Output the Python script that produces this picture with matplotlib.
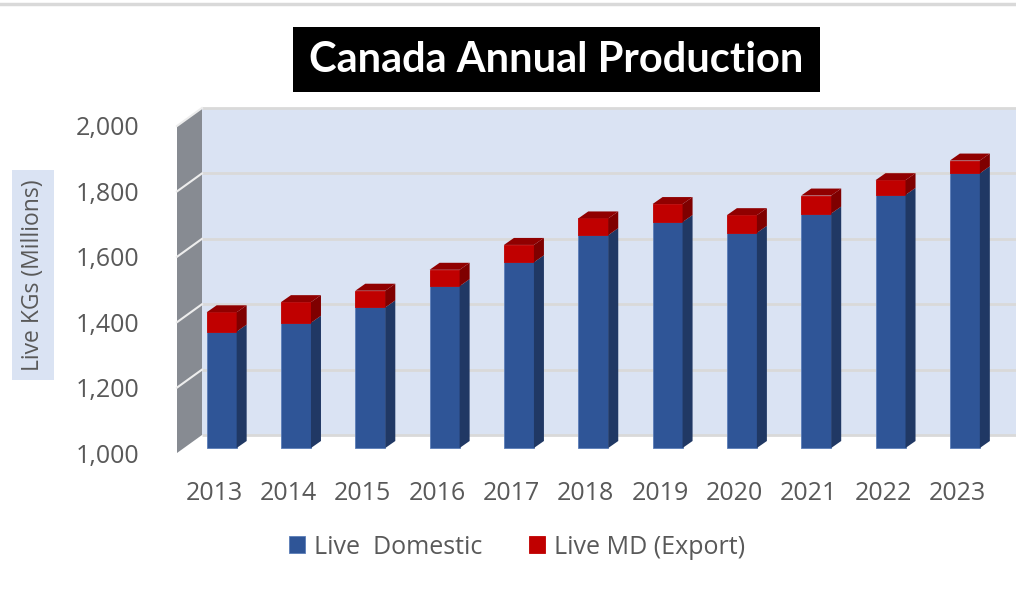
import numpy as np
import matplotlib.pyplot as plt
from matplotlib.patches import Polygon, Rectangle
from matplotlib.lines import Line2D
from matplotlib.transforms import ScaledTranslation

plt.rcParams['font.family'] = ['Open Sans', 'DejaVu Sans']

# data (millions of live kg)
years = ['2013', '2014', '2015', '2016', '2017', '2018', '2019', '2020', '2021', '2022', '2023']
domestic = [1356, 1383, 1430, 1495, 1568, 1651, 1691, 1658, 1717, 1774, 1840]
export = [59, 63, 51, 50, 53, 51, 55, 54, 55, 45, 39]
y_ticks = [1000, 1200, 1400, 1600, 1800, 2000]

W, H, DPI = 1016, 589, 100
fig = plt.figure(figsize=(W / DPI, H / DPI), dpi=DPI)

# front plane of the fake 3D box, in pixels
left, right, bottom, top = 177, 994.5, 136, 463
ax = fig.add_axes([left / W, bottom / H, (right - left) / W, (top - bottom) / H])
ax.set_xlim(-0.5, len(years) - 0.5)
ax.set_ylim(y_ticks[0], y_ticks[-1])
ax.patch.set_visible(False)
for s in ax.spines.values():
    s.set_visible(False)

px_x = len(years) / (right - left)
px_y = (y_ticks[-1] - y_ticks[0]) / (top - bottom)


def shift(dx, dy):
    # data transform moved by some pixels (depth of the 3D box)
    return ax.transData + ScaledTranslation(dx / DPI, dy / DPI, fig.dpi_scale_trans)


wall_dx, wall_dy = 25, 18
x0, x1 = -0.5, len(years) - 0.5
ymin, ymax = y_ticks[0], y_ticks[-1]

# back wall + gridlines
wall = shift(wall_dx, wall_dy)
ax.add_patch(Rectangle((x0, ymin), x1 - x0, ymax - ymin, transform=wall,
                       fc='#DAE3F3', ec='none', clip_on=False, zorder=0))
for v in y_ticks:
    ax.plot([x0, x1], [v, v], transform=wall, color='#D9D9D9', lw=2,
            clip_on=False, zorder=1, solid_capstyle='butt')

# left side wall
ddx, ddy = wall_dx * px_x, wall_dy * px_y
ax.add_patch(Polygon([(x0, ymin), (x0, ymax), (x0 + ddx, ymax + ddy), (x0 + ddx, ymin + ddy)],
                     closed=True, fc='#878B92', ec='none', clip_on=False, zorder=1))
for v in y_ticks[1:]:
    ax.plot([x0, x0 + ddx], [v, v + ddy], color='#EDEDED', lw=1.5, clip_on=False, zorder=2)

# bars
front = shift(7.5, 5)
w = 30 * px_x
bx, by = 10 * px_x, 7 * px_y
x = np.arange(len(years))
dom = np.array(domestic)
exp_ = np.array(export)

b1 = ax.bar(x, dom - ymin, bottom=ymin, width=w, color='#2F5597', edgecolor='#5B7DB8',
            linewidth=0.6, transform=front, clip_on=False, zorder=3)
b2 = ax.bar(x, exp_, bottom=dom, width=w, color='#C00000', edgecolor='#C00000',
            linewidth=0.6, transform=front, clip_on=False, zorder=3)

for i in range(len(years)):
    xl, xr = x[i] - w / 2, x[i] + w / 2
    segs = [(ymin, dom[i], '#203864'), (dom[i], dom[i] + exp_[i], '#7F0000')]
    for b, t, c in segs:
        ax.add_patch(Polygon([(xr, b), (xr, t), (xr + bx, t + by), (xr + bx, b + by)],
                             closed=True, fc=c, ec='none', transform=front,
                             clip_on=False, zorder=3))
    t = dom[i] + exp_[i]
    ax.add_patch(Polygon([(xl, t), (xr, t), (xr + bx, t + by), (xl + bx, t + by)],
                         closed=True, fc='#900000', ec='none', transform=front,
                         clip_on=False, zorder=3))

# axes text
ax.set_xticks(x, years)
ax.set_yticks(y_ticks, [f'{v:,}' for v in y_ticks])
ax.tick_params(axis='both', length=0, labelsize=18, labelcolor='#595959')
ax.tick_params(axis='y', pad=27)
ax.tick_params(axis='x', pad=20)

fig.text(33 / W, 1 - 275 / H, 'Live KGs (Millions)', rotation=90, ha='center', va='center',
         fontsize=16.5, color='#595959',
         bbox=dict(boxstyle='square,pad=0.4', fc='#DAE3F3', ec='none'))

# title
fig.add_artist(Rectangle((293 / W, 1 - 92 / H), 527 / W, 65 / H, transform=fig.transFigure,
                         fc='black', ec='none'))
fig.text(556 / W, 1 - 60 / H, 'Canada Annual Production', ha='center', va='center',
         fontsize=30, fontweight='bold', color='white', family=['Lato', 'DejaVu Sans'])

# thin border at top
fig.add_artist(Line2D([0, 1], [1 - 4 / H] * 2, color='#D9D9D9', lw=2.5, transform=fig.transFigure))

fig.legend([b1, b2], ['Live  Domestic', 'Live MD (Export)'], loc='center',
           bbox_to_anchor=(517 / W, 1 - 547 / H), ncol=2, frameon=False, fontsize=18,
           handlelength=0.64, handleheight=0.64, handletextpad=0.36, columnspacing=1.9,
           labelcolor='#595959')

fig.savefig('out.png', dpi=DPI)
